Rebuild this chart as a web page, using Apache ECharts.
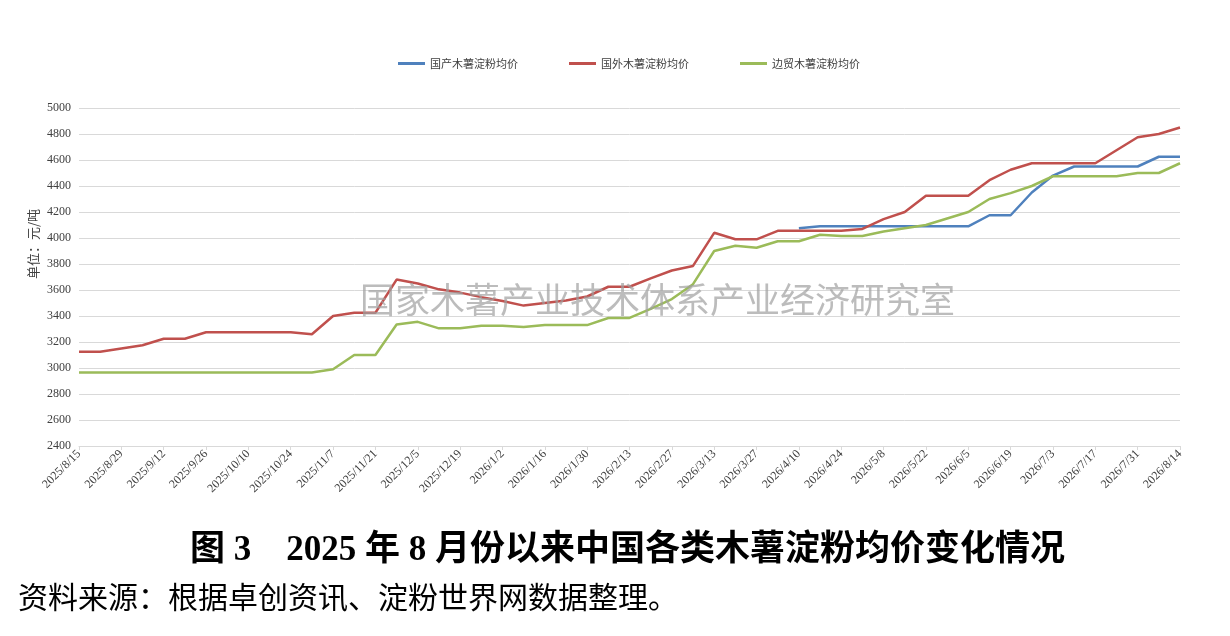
<!DOCTYPE html>
<html>
<head>
<meta charset="utf-8">
<script src="https://cdn.jsdelivr.net/npm/echarts@6/dist/echarts.min.js"></script>
<style>
  html, body { margin: 0; padding: 0; background: #fff; }
  #main { width: 1230px; height: 636px; }
</style>
</head>
<body>
<div id="main"></div>
<script>
// 周度日期
var dates = [
  '2025/8/15','2025/8/22','2025/8/29','2025/9/5','2025/9/12','2025/9/19','2025/9/26',
  '2025/10/3','2025/10/10','2025/10/17','2025/10/24','2025/10/31',
  '2025/11/7','2025/11/14','2025/11/21','2025/11/28',
  '2025/12/5','2025/12/12','2025/12/19','2025/12/26',
  '2026/1/2','2026/1/9','2026/1/16','2026/1/23','2026/1/30',
  '2026/2/6','2026/2/13','2026/2/20','2026/2/27',
  '2026/3/6','2026/3/13','2026/3/20','2026/3/27',
  '2026/4/3','2026/4/10','2026/4/17','2026/4/24',
  '2026/5/1','2026/5/8','2026/5/15','2026/5/22','2026/5/29',
  '2026/6/5','2026/6/12','2026/6/19','2026/6/26',
  '2026/7/3','2026/7/10','2026/7/17','2026/7/24','2026/7/31',
  '2026/8/7','2026/8/14'
];

var seriesNames = ['国产木薯淀粉均价','国外木薯淀粉均价','边贸木薯淀粉均价'];

// 国产：2026/4/10 起才有数据
var domestic = [
  null,null,null,null,null,null,null,null,null,null,null,null,
  null,null,null,null,null,null,null,null,null,null,null,null,
  null,null,null,null,null,null,null,null,null,null,
  4075,4090,4090,4090,4090,4090,4090,4090,4090,
  4175,4175,4350,4480,4550,4550,4550,4550,4625,4625
];

var foreign = [
  3125,3125,3150,3175,3225,3225,3275,3275,3275,3275,3275,3260,
  3400,3425,3425,3680,3650,3605,3580,3545,3515,3480,3500,3520,
  3550,3625,3625,3690,3750,3785,4040,3990,3990,4055,
  4055,4055,4055,4070,4145,4200,4325,4325,4325,
  4445,4525,4575,4575,4575,4575,4675,4775,4800,4850
];

var border = [
  2965,2965,2965,2965,2965,2965,2965,2965,2965,2965,2965,2965,
  2990,3100,3100,3335,3355,3305,3305,3325,3325,3315,3330,3330,
  3330,3385,3385,3455,3530,3645,3900,3940,3925,3975,
  3975,4025,4015,4015,4050,4075,4100,4150,4200,
  4300,4345,4400,4475,4475,4475,4475,4500,4500,4575
];

var colors = ['#4f81bd','#c0504d','#9bbb59'];

var serif = 'Liberation Serif, Times New Roman, serif';
var cjk = 'Noto Sans CJK SC, sans-serif';
var mixed = 'Liberation Serif, Noto Sans CJK SC, serif';

var option = {
  animation: false,
  color: colors,
  legend: {
    top: 53,
    left: 393,
    icon: 'rect',
    itemWidth: 27,
    itemHeight: 3,
    itemGap: 51,
    textStyle: { fontSize: 11, color: '#404040', fontFamily: cjk },
    data: seriesNames
  },
  grid: { left: 79, right: 50, top: 108, bottom: 190, containLabel: false },
  xAxis: {
    type: 'category',
    boundaryGap: false,
    data: dates,
    axisLine: { lineStyle: { color: '#d9d9d9' } },
    axisTick: { interval: 1, lineStyle: { color: '#d9d9d9' }, length: 4 },
    axisLabel: {
      interval: 1,
      rotate: 45,
      fontSize: 12,
      color: '#404040',
      fontFamily: serif,
      margin: 6
    }
  },
  yAxis: {
    type: 'value',
    min: 2400,
    max: 5000,
    interval: 200,
    axisLine: { show: false },
    axisTick: { show: false },
    axisLabel: {
      fontSize: 12, color: '#404040', fontFamily: serif, margin: 8,
      formatter: function (v) { return String(v); }
    },
    splitLine: { lineStyle: { color: '#d9d9d9' } }
  },
  graphic: [
    {
      type: 'text',
      x: 33,
      y: 244,
      rotation: Math.PI / 2,
      style: {
        text: '单位：元/吨',
        fontSize: 13,
        fontFamily: cjk,
        fill: '#404040',
        align: 'center',
        verticalAlign: 'middle'
      }
    },
    {
      type: 'text',
      left: 360,
      top: 282,
      z: 100,
      style: {
        text: '国家木薯产业技术体系产业经济研究室',
        fontSize: 35,
        fontFamily: cjk,
        fill: 'rgba(160,160,160,0.7)'
      }
    },
    {
      type: 'text',
      left: 190,
      top: 533,
      style: {
        text: '图 3　2025 年 8 月份以来中国各类木薯淀粉均价变化情况',
        fontSize: 35,
        fontWeight: 'bold',
        fontFamily: mixed,
        fill: '#000'
      }
    },
    {
      type: 'text',
      left: 18,
      top: 582,
      style: {
        text: '资料来源：根据卓创资讯、淀粉世界网数据整理。',
        fontSize: 30,
        fontFamily: cjk,
        fill: '#000'
      }
    }
  ],
  series: [
    { name: seriesNames[0], type: 'line', data: domestic, showSymbol: false, lineStyle: { width: 2.5 } },
    { name: seriesNames[1], type: 'line', data: foreign, showSymbol: false, lineStyle: { width: 2.5 } },
    { name: seriesNames[2], type: 'line', data: border, showSymbol: false, lineStyle: { width: 2.5 } }
  ]
};

try {
  var myChart = echarts.init(document.getElementById('main'));
  myChart.setOption(option);
} catch (e) {
  console.log(e);
}
</script>
</body>
</html>
